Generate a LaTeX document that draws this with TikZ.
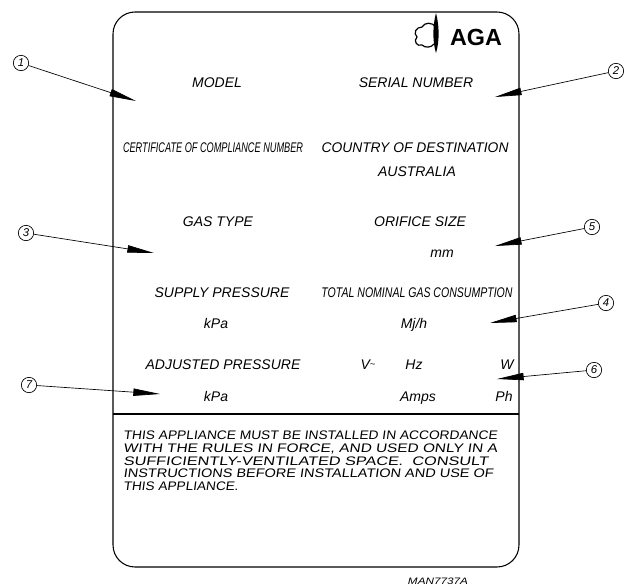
\documentclass[tikz,border=0pt]{standalone}
\usepackage{fontspec}
\usepackage{graphicx}
\usetikzlibrary{arrows.meta}
\setmainfont{Liberation Sans}
\newfontfamily\bodyf[FakeSlant=0.12]{Liberation Sans}
\newlength\pxu \setlength\pxu{0.75pt}
\newcommand\fitw[2]{\resizebox{#1\pxu}{\height}{#2}}
\tikzset{
  plate/.style={line width=0.8pt},
  lbl/.style={font=\fontsize{10.5}{12}\selectfont\itshape, inner sep=0pt, anchor=base},
  bodyline/.style={font=\fontsize{9.3}{10}\bodyf, inner sep=0pt, anchor=base west},
  callout/.style={circle, draw, line width=0.5pt, minimum size=11.5pt, inner sep=0pt, font=\fontsize{8.5}{9}\selectfont\itshape},
  callarrow/.style={line width=0.5pt, -{Triangle[length=20pt,width=5.5pt]}},
}
\begin{document}
\begin{tikzpicture}[x=0.75pt,y=-0.75pt]
\useasboundingbox (0,0) rectangle (626,586);
% plate
\draw[plate, rounded corners=16.5pt] (113,12) rectangle (519,567);
\draw[plate] (113,414) -- (519,414);
% logo
\node[inner sep=0pt, anchor=base, font=\fontsize{17.5}{18}\selectfont\bfseries] (aga) at (476,45) {AGA};
\draw[line width=0.9pt] (436,27) .. controls (432,22) and (425,22) .. (422,27)
   .. controls (416,27) and (413,33) .. (417,37)
   .. controls (413,41) and (417,47) .. (422,45)
   .. controls (425,48) and (431,48) .. (434,44);
\fill (436,13) .. controls (439.5,26) and (439.5,42) .. (436,53) .. controls (432.5,42) and (432.5,26) .. (436,13);
% labels
\node[lbl] (model) at (217,87) {MODEL};
\node[lbl] (serial) at (416,87) {SERIAL NUMBER};
\node[lbl] (cert) at (213,152) {\fitw{180}{CERTIFICATE OF COMPLIANCE NUMBER}};
\node[lbl] (country) at (415,152) {\fitw{187}{COUNTRY OF DESTINATION}};
\node[lbl] (aus) at (417,176) {AUSTRALIA};
\node[lbl] (gas) at (218,226) {GAS TYPE};
\node[lbl] (orifice) at (420,226) {ORIFICE SIZE};
\node[lbl] (mm) at (442,257) {mm};
\node[lbl] (supply) at (222,297) {SUPPLY PRESSURE};
\node[lbl] (total) at (417,297) {\fitw{191}{TOTAL NOMINAL GAS CONSUMPTION}};
\node[lbl] (kpa1) at (216,328) {kPa};
\node[lbl] (mjh) at (414,328) {Mj/h};
\node[lbl] (adj) at (223,369) {ADJUSTED PRESSURE};
\node[lbl] (volt) at (368,369) {V\raisebox{1pt}{\fontsize{7}{8}\selectfont\textasciitilde}};
\node[lbl] (hz) at (414,369) {Hz};
\node[lbl] (watt) at (507,369) {W};
\node[lbl] (kpa2) at (216,401) {kPa};
\node[lbl] (amps) at (418,401) {Amps};
\node[lbl] (ph) at (504,401) {Ph};
% body text
\node[bodyline] (b1) at (123,439) {\fitw{374}{THIS APPLIANCE MUST BE INSTALLED IN ACCORDANCE}};
\node[bodyline] (b2) at (123,452) {\fitw{374}{WITH THE RULES IN FORCE, AND USED ONLY IN A}};
\node[bodyline] (b3) at (123,465) {\fitw{365}{SUFFICIENTLY-VENTILATED SPACE.\ \ CONSULT}};
\node[bodyline] (b4) at (123,477) {\fitw{370}{INSTRUCTIONS BEFORE INSTALLATION AND USE OF}};
\node[bodyline] (b5) at (123,490) {\fitw{115}{THIS APPLIANCE.}};
\node[inner sep=0pt, anchor=base, font=\fontsize{7}{8}\selectfont\itshape] (man) at (438,584) {\fitw{60}{MAN7737A}};
% callouts
\node[callout] (c1) at (21,63) {1};
\node[callout] (c2) at (616,71) {2};
\node[callout] (c3) at (26,233) {3};
\node[callout] (c5) at (592,227) {5};
\node[callout] (c4) at (606,303) {4};
\node[callout] (c6) at (594,370) {6};
\node[callout] (c7) at (29,385) {7};
\coordinate (t1) at (136,101);
\coordinate (t2) at (495,97);
\coordinate (t3) at (154,253);
\coordinate (t5) at (495,246);
\coordinate (t4) at (490,323);
\coordinate (t6) at (497,379);
\coordinate (t7) at (160,394);
\draw[callarrow] (c1) -- (t1);
\draw[callarrow] (c2) -- (t2);
\draw[callarrow] (c3) -- (t3);
\draw[callarrow] (c5) -- (t5);
\draw[callarrow] (c4) -- (t4);
\draw[callarrow] (c6) -- (t6);
\draw[callarrow] (c7) -- (t7);
\end{tikzpicture}
\end{document}
